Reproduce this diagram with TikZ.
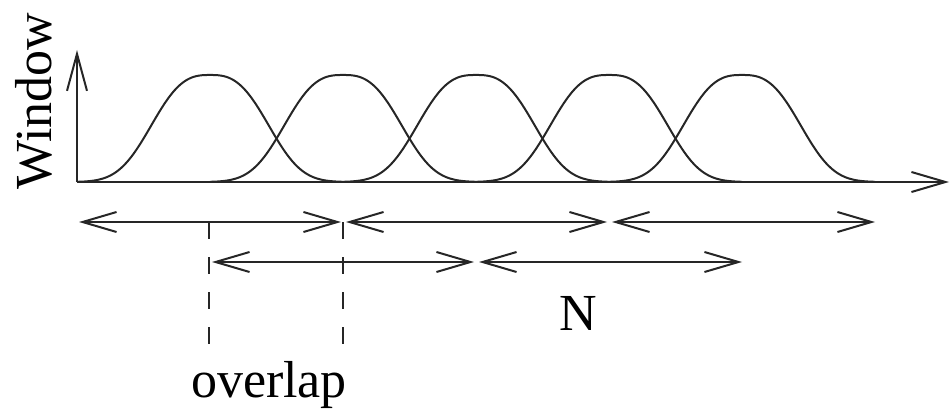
\documentclass[tikz,border=0pt]{standalone}
\usepackage{fontspec}
\setmainfont{Liberation Serif}
\usetikzlibrary{arrows.meta}
\begin{document}
\begin{tikzpicture}[x=1pt,y=-1pt,
  line/.style={line width=2pt,black!85},
  barb/.style={line, -{Straight Barb[length=34pt,width=20pt]}},
  dbarb/.style={line, {Straight Barb[length=34pt,width=20pt]}-{Straight Barb[length=34pt,width=20pt]}},
  guide/.style={line, dash pattern=on 17pt off 18pt},
  lbl/.style={inner sep=0pt, font=\fontsize{52}{60}\selectfont}]
\useasboundingbox (0,0) rectangle (950,412);
% axes
\coordinate (O) at (77,182);
\coordinate (ytop) at (77,50);
\coordinate (xend) at (949,182);
\draw[line, -{Straight Barb[length=37pt,width=20pt]}] (O) -- (ytop);
\draw[barb] (O) -- (xend);
% windows
\foreach \c in {210,343,476,609,742}{
  \draw[line, line join=round] plot[domain=-133:133, samples=140, variable=\t]
    ({\c+\t},{182-107*exp(-((abs(\t)+0.01)/69)^2.8)});
}
% arrows row 1
\coordinate (a0) at (79,222);
\coordinate (a1) at (341,222);
\coordinate (a2) at (346,222);
\coordinate (a3) at (607,222);
\coordinate (a4) at (612,222);
\coordinate (a5) at (875,222);
\draw[dbarb] (a0) -- (a1);
\draw[dbarb] (a2) -- (a3);
\draw[dbarb] (a4) -- (a5);
% arrows row 2
\coordinate (b0) at (212,262);
\coordinate (b1) at (474,262);
\coordinate (b2) at (479,262);
\coordinate (b3) at (742,262);
\draw[dbarb] (b0) -- (b1);
\draw[dbarb] (b2) -- (b3);
% dashed guides
\coordinate (g1t) at (209,222);
\coordinate (g1b) at (209,347);
\coordinate (g2t) at (343,222);
\coordinate (g2b) at (343,347);
\draw[guide] (g1t) -- (g1b);
\draw[guide] (g2t) -- (g2b);
% labels
\node[lbl, rotate=90, anchor=base] (win) at (51,101) {Window};
\node[lbl, anchor=base] (ov) at (269,397) {overlap};
\node[lbl, anchor=base] (N) at (578,330) {N};
\end{tikzpicture}
\end{document}
